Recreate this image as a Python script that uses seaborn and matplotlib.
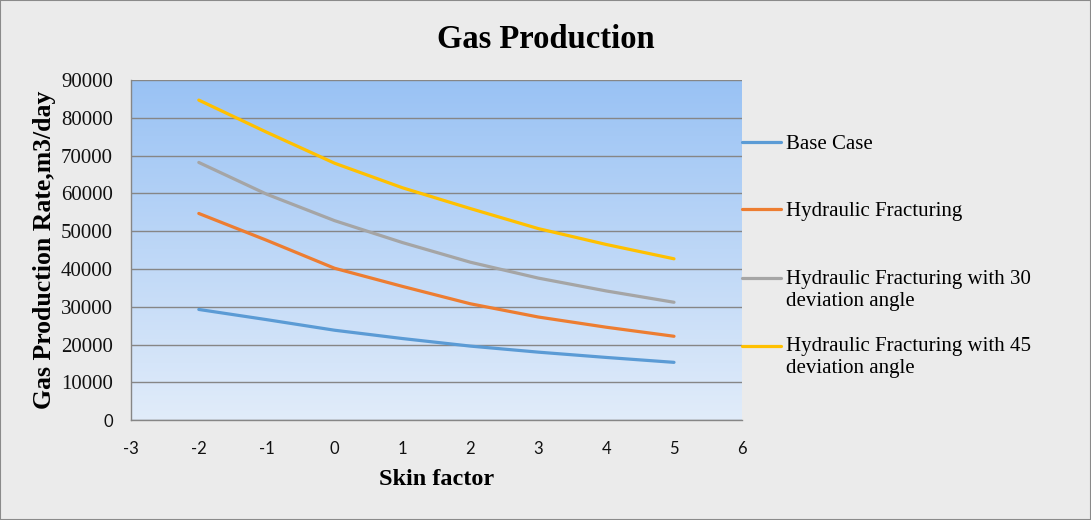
import matplotlib

matplotlib.use("Agg")
import matplotlib.pyplot as plt
import numpy as np
import pandas as pd
import seaborn as sns
from matplotlib.font_manager import FontProperties

# values
skin = [-2, -1, 0, 1, 2, 3, 4, 5]
base_case = [29300, 26600, 23800, 21600, 19600, 18000, 16600, 15300]
hydraulic = [54700, 47600, 40200, 35400, 30800, 27300, 24600, 22200]
hydraulic_30 = [68200, 59800, 52800, 47000, 41800, 37600, 34200, 31200]
hydraulic_45 = [84700, 76200, 68000, 61500, 56000, 50700, 46500, 42700]

series_names = [
    "Base Case",
    "Hydraulic Fracturing",
    "Hydraulic Fracturing with 30\ndeviation angle",
    "Hydraulic Fracturing with 45\ndeviation angle",
]
colors = ["#5b9bd5", "#ed7d31", "#a5a5a5", "#ffc000"]

df = pd.DataFrame({
    "skin": skin * 4,
    "rate": base_case + hydraulic + hydraulic_30 + hydraulic_45,
    "series": sum([[name] * len(skin) for name in series_names], []),
})

sns.set_style("white")
plt.rcParams["font.family"] = ["Liberation Serif", "DejaVu Serif"]
plt.rcParams["text.color"] = "black"
plt.rcParams["axes.labelcolor"] = "black"
plt.rcParams["axes.unicode_minus"] = False

fig = plt.figure(figsize=(10.91, 5.20), dpi=100, facecolor="#ebebeb")
ax = fig.add_axes([0.120, 0.192, 0.560, 0.654])

# blue gradient plot area
grad = np.linspace(0, 1, 256).reshape(-1, 1)
top = np.array([0x99, 0xc2, 0xf4]) / 255
bottom = np.array([0xe1, 0xec, 0xfa]) / 255
img = top + (bottom - top) * grad[..., None]
ax.imshow(img, extent=[0, 1, 0, 1], transform=ax.transAxes, aspect="auto", zorder=0)

sns.lineplot(
    data=df, x="skin", y="rate", hue="series", palette=colors,
    linewidth=2.3, ax=ax, zorder=3, legend=False,
)

ax.set_xlim(-3, 6)
ax.set_ylim(0, 90000)
ax.set_xticks(range(-3, 7))
ax.set_yticks(range(0, 90001, 10000))
ax.yaxis.grid(True, color="#868686", linewidth=1.0, zorder=1)
for spine in ["top", "right"]:
    ax.spines[spine].set_visible(False)
for spine in ["left", "bottom"]:
    ax.spines[spine].set_color("#868686")
    ax.spines[spine].set_linewidth(1.0)
ax.tick_params(axis="y", direction="out", length=5, color="#868686", width=1.0,
               labelcolor="#111111", pad=8)
ax.tick_params(axis="x", direction="out", length=4, color="#868686", width=1.0,
               labelcolor="#111111", pad=11)

# x ticks and the y "0" are in a sans face, other y ticks serif
sans = FontProperties(family="Lato", size=12)
serif = FontProperties(family="Liberation Serif", size=15)
for lab in ax.get_xticklabels():
    lab.set_fontproperties(sans)
for i, lab in enumerate(ax.get_yticklabels()):
    lab.set_fontproperties(sans if i == 0 else serif)

ax.set_xlabel("Skin factor", fontsize=17.5, fontweight="bold", labelpad=9)
ax.set_ylabel("Gas Production Rate,m3/day", fontsize=18.5, fontweight="bold", labelpad=3.5)
fig.text(0.5, 0.925, "Gas Production", ha="center", va="center",
         fontsize=23.5, fontweight="bold")

# legend entries spaced like the reference (first lines evenly apart)
legend_y = [0.723, 0.594, 0.442, 0.312]
for line, name, y in zip(ax.get_lines(), series_names, legend_y):
    leg = fig.legend(
        [line], [name], loc="center left", bbox_to_anchor=(0.680, y),
        frameon=False, fontsize=15, handlelength=1.9, handletextpad=0.2,
        borderpad=0, borderaxespad=0,
    )
    handle = leg.legend_handles[0]
    handle.set_linewidth(2.3)
    if "\n" in name:
        handle.set_ydata(np.asarray(handle.get_ydata()) + 8.6)

fig.patches.append(plt.Rectangle((0, 0), 1, 1, transform=fig.transFigure,
                                 fill=False, edgecolor="#8a8a8a", linewidth=1.5))

fig.savefig("out.png", dpi=100, facecolor=fig.get_facecolor())
